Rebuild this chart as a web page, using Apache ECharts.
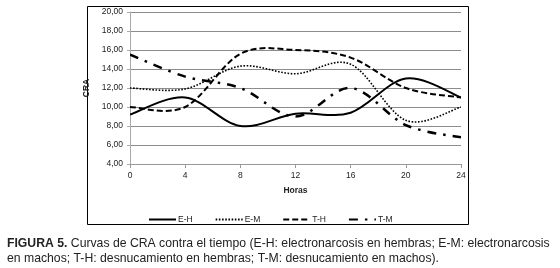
<!DOCTYPE html>
<html>
<head>
<meta charset="utf-8">
<script src="https://cdn.jsdelivr.net/npm/echarts@6/dist/echarts.min.js"></script>
<style>
  html, body { margin: 0; padding: 0; background: #fff; }
  #chart { width: 560px; height: 268px; }
</style>
</head>
<body>
<div id="chart"></div>
<script>
  // horas
  const hours = [0, 4, 8, 12, 16, 20, 24]
  // CRA por grupo
  const eH = [9.2, 11.0, 8.0, 9.3, 9.4, 13.0, 11.0]
  const eM = [12.0, 11.9, 14.3, 13.5, 14.5, 8.6, 10.0]
  const tH = [10.0, 10.0, 15.6, 16.0, 15.2, 12.0, 11.0]
  const tM = [15.5, 13.2, 12.0, 9.0, 12.0, 8.1, 6.8]
  const seriesNames = ['E-H', 'E-M', 'T-H', 'T-M']

  const font = '"Liberation Sans", Arial, sans-serif'

  const styles = [
    { width: 2, dash: null },
    { width: 1.6, dash: [1.6, 1.6] },
    { width: 2, dash: [6, 3] },
    { width: 2.5, dash: [9, 7, 2.5, 7] }
  ]
  const values = [eH, eM, tH, tM]

  function pairs (vals) {
    return hours.map((h, i) => [h, vals[i]])
  }

  // curva suavizada tipo Excel (Catmull-Rom), todo el trazo en el primer item
  function smoothRender (vals, st) {
    return function (params, api) {
      if (params.dataIndex !== 0) return
      const p = hours.map((h, i) => api.coord([h, vals[i]]))
      let d = 'M' + p[0][0] + ',' + p[0][1]
      for (let i = 0; i < p.length - 1; i++) {
        const p0 = p[Math.max(i - 1, 0)]
        const p1 = p[i]
        const p2 = p[i + 1]
        const p3 = p[Math.min(i + 2, p.length - 1)]
        const c1x = p1[0] + (p2[0] - p0[0]) / 6
        const c1y = p1[1] + (p2[1] - p0[1]) / 6
        const c2x = p2[0] - (p3[0] - p1[0]) / 6
        const c2y = p2[1] - (p3[1] - p1[1]) / 6
        d += ' C' + c1x + ',' + c1y + ' ' + c2x + ',' + c2y + ' ' + p2[0] + ',' + p2[1]
      }
      return {
        type: 'path',
        shape: { pathData: d },
        style: { fill: 'none', stroke: '#000', lineWidth: st.width, lineDash: st.dash }
      }
    }
  }

  const chart = echarts.init(document.getElementById('chart'))

  const series = []
  // series vacias solo para los iconos de la leyenda
  seriesNames.forEach((name, k) => {
    series.push({
      name: name,
      type: 'line',
      data: [],
      symbol: 'none',
      lineStyle: { color: '#000', width: styles[k].width, type: styles[k].dash || 'solid' },
      itemStyle: { color: '#000' }
    })
  })
  seriesNames.forEach((name, k) => {
    series.push({
      name: name,
      type: 'custom',
      silent: true,
      data: pairs(values[k]),
      renderItem: smoothRender(values[k], styles[k]),
      clip: true
    })
  })

  const option = {
    backgroundColor: '#fff',
    animation: false,
    grid: {
      left: 130,
      right: 99,
      top: 12,
      bottom: 104
    },
    legend: {
      data: seriesNames,
      left: 143,
      top: 210,
      itemWidth: 27,
      itemHeight: 8,
      itemGap: 22,
      itemStyle: { opacity: 0 },
      textStyle: { fontFamily: font, fontSize: 8.5, color: '#222', padding: [0, 0, 0, -3] }
    },
    xAxis: {
      type: 'value',
      min: 0,
      max: 24,
      interval: 4,
      name: 'Horas',
      nameLocation: 'middle',
      nameGap: 22,
      nameTextStyle: { fontFamily: font, fontSize: 8.5, fontWeight: 'bold', color: '#222' },
      axisLine: { lineStyle: { color: '#999' } },
      axisTick: { show: true, length: 4, lineStyle: { color: '#999' } },
      axisLabel: { fontFamily: font, fontSize: 8.5, color: '#222', margin: 7 },
      splitLine: { show: false }
    },
    yAxis: {
      type: 'value',
      min: 4,
      max: 20,
      interval: 2,
      name: 'CRA',
      nameLocation: 'middle',
      nameGap: 27,
      nameRotate: 90,
      nameTextStyle: { fontFamily: font, fontSize: 8.5, fontWeight: 'bold', color: '#222' },
      axisLine: { show: true, lineStyle: { color: '#aaa' } },
      axisTick: { show: true, length: 3, lineStyle: { color: '#aaa' } },
      axisLabel: {
        fontFamily: font,
        fontSize: 8.5,
        color: '#222',
        margin: 7,
        formatter: v => v.toFixed(2).replace('.', ',')
      },
      splitLine: { show: true, lineStyle: { color: '#8c8c8c', width: 1 } }
    },
    series: series,
    graphic: [
      {
        type: 'rect',
        shape: { x: 87.5, y: 6.5, width: 381, height: 218 },
        style: { fill: 'none', stroke: '#000', lineWidth: 1 },
        silent: true
      },
      {
        type: 'text',
        x: 7,
        y: 237,
        scaleX: 0.94,
        style: {
          rich: {
            b: { fontFamily: font, fontSize: 13, fontWeight: 'bold', fill: '#222' },
            n: { fontFamily: font, fontSize: 13, fill: '#222' }
          },
          text: '{b|FIGURA 5.}{n| Curvas de CRA contra el tiempo (E-H: electronarcosis en hembras; E-M: electronarcosis}'
        }
      },
      {
        type: 'text',
        x: 7,
        y: 252,
        scaleX: 0.94,
        style: {
          text: 'en machos; T-H: desnucamiento en hembras; T-M: desnucamiento en machos).',
          fontFamily: font,
          fontSize: 13,
          fill: '#222'
        }
      }
    ]
  }

  chart.setOption(option)
</script>
</body>
</html>
